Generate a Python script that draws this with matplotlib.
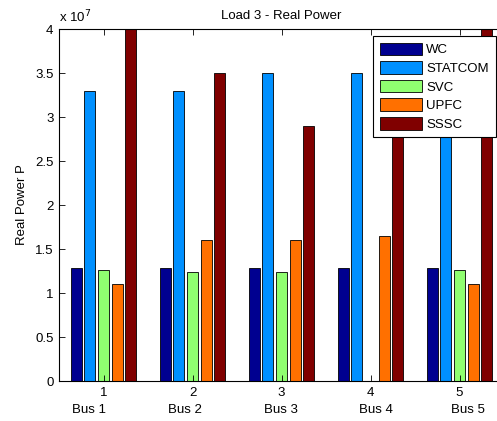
import numpy as np
import matplotlib.pyplot as plt
from matplotlib.ticker import FuncFormatter

buses = [1, 2, 3, 4, 5]
bus_names = ['Bus 1', 'Bus 2', 'Bus 3', 'Bus 4', 'Bus 5']
series = ['WC', 'STATCOM', 'SVC', 'UPFC', 'SSSC']
wc = [1.28, 1.28, 1.28, 1.28, 1.28]
statcom = [3.3, 3.3, 3.5, 3.5, 3.5]
svc = [1.26, 1.24, 1.24, 0.0, 1.26]
upfc = [1.1, 1.6, 1.6, 1.65, 1.1]
sssc = [4.2, 3.5, 2.9, 3.0, 4.2]
colors = ['#000090', '#0090FF', '#90FF70', '#FF7000', '#800000']

plt.rcParams['font.family'] = ['Liberation Sans', 'DejaVu Sans']
fs = 9.5

fig = plt.figure(figsize=(4.97, 4.21), dpi=100)
ax = fig.add_axes([59/497, 40/421, 445/497, 352/421])

x = np.array(buses, dtype=float)
step = 0.769 / 5
width = step * 0.8
for i, (name, vals) in enumerate(zip(series, [wc, statcom, svc, upfc, sssc])):
    ax.bar(x + (i - 2) * step, np.array(vals) * 1e7, width, color=colors[i],
           edgecolor='black', linewidth=0.6, label=name)

ax.set_xlim(0.5, 5.5)
ax.set_ylim(0, 4e7)
ax.set_xticks(buses)
ax.set_yticks(np.arange(0, 4.01e7, 0.5e7))
ax.yaxis.set_major_formatter(FuncFormatter(lambda v, p: '%g' % (v / 1e7)))
ax.tick_params(direction='in', labelsize=fs, length=4, top=True, width=0.6, pad=4)
for s in ['left', 'bottom', 'top', 'right']:
    ax.spines[s].set_linewidth(0.8)
ax.text(0.0, 1.01, 'x 10$^7$', transform=ax.transAxes, fontsize=fs, ha='left', va='bottom')
ax.set_title('Load 3 - Real Power', fontsize=fs, pad=7)
ax.set_ylabel('Real Power P', fontsize=fs, labelpad=5)

bus_x = [89, 185, 281, 376, 468]
for bx, name in zip(bus_x, bus_names):
    fig.text(bx / 497, 1 - 410 / 421, name, fontsize=fs, ha='center', va='center')

leg = ax.legend(loc='upper left', bbox_to_anchor=(373 / 497, 1 - 36 / 421),
                bbox_transform=fig.transFigure,
                fontsize=fs, fancybox=False, edgecolor='black', framealpha=1,
                handlelength=3.2, handleheight=1.1, labelspacing=0.36,
                borderaxespad=0, handletextpad=0.35, borderpad=0.5)
leg.get_frame().set_linewidth(0.8)

fig.savefig('out.png', dpi=100)
